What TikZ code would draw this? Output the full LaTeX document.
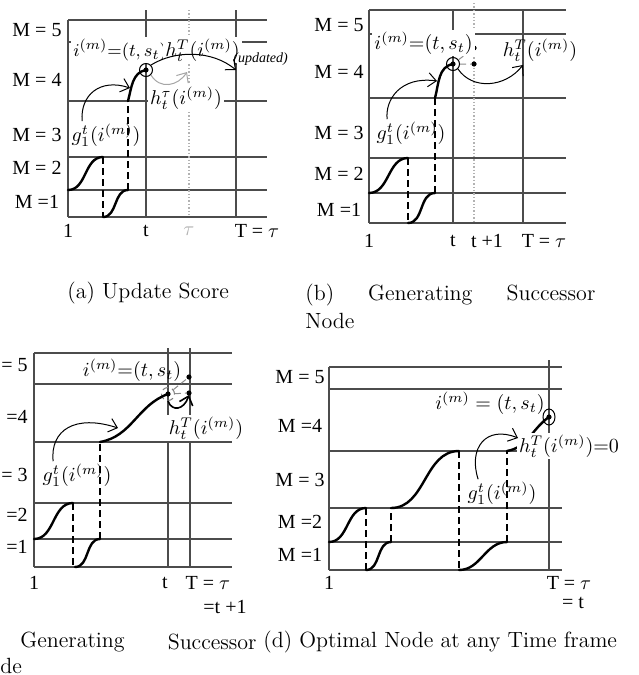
\documentclass[tikz,border=0pt]{standalone}
\usepackage{fontspec}
\newfontfamily\tms{Liberation Serif}
\usetikzlibrary{arrows.meta,shapes.geometric}

\begin{document}
\begin{tikzpicture}[x=0.5pt,y=-0.5pt,>={Straight Barb[length=4pt,width=7pt]},
  gline/.style={black!70,line width=0.7pt},
  tline/.style={black!30,densely dotted,line width=0.7pt},
  wave/.style={line width=1.2pt,line cap=round},
  drop/.style={line width=0.7pt,dash pattern=on 3.5pt off 2pt},
  mlab/.style={font=\tms\fontsize{10}{12}\selectfont,inner sep=1pt},
  fml/.style={font=\fontsize{10}{12}\selectfont,inner sep=1pt},
  capt/.style={font=\fontsize{11}{13.6}\selectfont,inner sep=0pt},
  ring/.style={circle,draw,line width=0.5pt,minimum size=6.5pt,inner sep=0pt},
  dot/.style={circle,fill,inner sep=0pt,minimum size=2.6pt},
  link/.style={->,line width=0.5pt}]
\useasboundingbox (0,0) rectangle (638,675);

% (a) update score
\foreach \y in {20,42,101,157,190,217} \draw[gline] (68,\y) -- (267,\y);
\draw[gline] (68,20) -- (68,217) (146,10) -- (146,217) (236,10) -- (236,217);
\draw[tline] (189,10) -- (189,217);
\foreach \t/\y in {M = 5/30,M = 4/80,M = 3/135,M = 2/168,M =1/202}
  \node[mlab] (a-m\y) at (37,\y) {\t};
\node[mlab] (a-x1) at (68,231) {1};
\node[mlab] (a-xt) at (146,231) {t};
\node[mlab,text=black!30] (a-xtau) at (189,231) {$\tau$};
\node[mlab] (a-xT) at (257,231) {T = $\tau$};
\node[ring] (a-c) at (146,70) {};
\node[dot] (a-cd) at (a-c) {};
\draw[wave] (68,190) to[out=0,in=180] (103,157);
\draw[drop] (103,157) -- (103,217);
\draw[wave] (103,217) to[out=0,in=180] (128,190);
\draw[drop] (128,190) -- (128,101);
\draw[wave] (128,101) to[out=75,in=190] (a-c.center);
\node[fml,fill=white,anchor=west,font=\fontsize{9.5}{11}\selectfont] (a-i) at (71,50) {$i^{(m)}{=}(t,s_t)$};
\node[fml,fill=white,anchor=west] (a-hT) at (163,50) {$h_t^T(i^{(m)})$};
\node[font=\tms\itshape\fontsize{7}{8}\selectfont,anchor=west,inner sep=0.5pt] (a-up) at (232,59) {(updated)};
\node[fml,fill=white] (a-ht) at (186,98) {$h_t^\tau(i^{(m)})$};
\node[fml] (a-g) at (106,135) {$g_1^t(i^{(m)})$};
\coordinate (a-gt) at (130,88);
\coordinate (a-T) at (236,70);
\coordinate (a-tau) at (187,72);
\draw[link] (a-g.150) .. controls (80,95) and (100,78) .. (a-gt);
\draw[link] (a-c.north east) .. controls (175,50) and (212,50) .. (a-T);
\draw[link,black!35] (a-c.south east) .. controls (160,90) and (178,86) .. (a-tau);

% (b) generating successor node
\foreach \y in {10,34,98,158,193,223} \draw[gline] (369,\y) -- (566,\y);
\draw[gline] (369,10) -- (369,223) (453,10) -- (453,223) (523,10) -- (523,223);
\draw[tline] (474,3) -- (474,223);
\foreach \t/\y in {M = 5/25,M = 4/72,M = 3/133,M = 2/174,M =1/210}
  \node[mlab] (b-m\y) at (339,\y) {\t};
\node[mlab] (b-x1) at (369,241) {1};
\node[mlab] (b-xt) at (453,241) {t};
\node[mlab] (b-xt1) at (487,241) {t +1};
\node[mlab] (b-xT) at (544,241) {T = $\tau$};
\node[ring] (b-c) at (453,64) {};
\node[dot] (b-cd) at (b-c) {};
\node[dot] (b-d1) at (474,48) {};
\node[dot] (b-d2) at (474,64) {};
\draw[wave] (369,193) to[out=0,in=180] (408,158);
\draw[drop] (408,158) -- (408,223);
\draw[wave] (408,223) to[out=0,in=180] (435,193);
\draw[drop] (435,193) -- (435,98);
\draw[wave] (435,98) to[out=75,in=190] (b-c.center);
\draw[black!45,densely dashed,line width=0.5pt] (b-c) -- (b-d1) (b-c) -- (b-d2);
\node[fml,fill=white,anchor=west] (b-i) at (372,43) {$i^{(m)}{=}(t,s_t)$};
\node[fml] (b-h) at (540,50) {$h_t^T(i^{(m)})$};
\node[fml] (b-g) at (411,133) {$g_1^t(i^{(m)})$};
\coordinate (b-gt) at (437,81);
\coordinate (b-T) at (523,65);
\draw[link] (b-g.150) .. controls (385,100) and (400,76) .. (b-gt);
\draw[link] (b-c.south east) .. controls (472,90) and (505,88) .. (b-T);

% (c) successor at the end
\foreach \y in {353,384,442,503,539,567} \draw[gline] (34,\y) -- (232,\y);
\draw[gline] (34,353) -- (34,567) (168,348) -- (168,567) (190,348) -- (190,567);
\foreach \t/\y in {= 5/365,=4/417,= 3/475,=2/515,=1/547}
  \node[mlab,anchor=east] (c-m\y) at (30,\y) {\t};
\node[mlab] (c-x1) at (34,583) {1};
\node[mlab] (c-xt) at (165,583) {t};
\node[mlab] (c-xT) at (208,583) {T = $\tau$};
\node[mlab] (c-xt1) at (225,607) {=t +1};
\node[ring,draw=black!50,densely dashed] (c-c) at (168,394) {};
\node[dot] (c-cd) at (c-c) {};
\node[dot] (c-d1) at (189,377) {};
\node[dot] (c-d2) at (189,393) {};
\draw[wave] (34,539) to[out=0,in=180] (73,503);
\draw[drop] (73,503) -- (73,567);
\draw[wave] (75,567) to[out=0,in=180] (100,539);
\draw[drop] (100,539) -- (100,442);
\draw[wave] (100,442) to[out=10,in=200] (c-c.center);
\draw[black!45,densely dashed,line width=0.5pt] (c-c) -- (c-d1) (c-c) -- (c-d2);
\node[fml] (c-i) at (132,370) {$i^{(m)}{=}(t,s_t)$};
\node[fml,fill=white] (c-h) at (206,428) {$h_t^T(i^{(m)})$};
\node[fml] (c-g) at (77,475) {$g_1^t(i^{(m)})$};
\coordinate (c-gt) at (118,428);
\coordinate (c-T) at (189,395);
\draw[link] (c-g.150) .. controls (50,430) and (75,414) .. (c-gt);
\draw[link,line width=0.8pt] (c-c.south) .. controls (172,412) and (184,410) .. (c-T);

% (d) optimal node
\foreach \y in {367,389,451,508,542,570} \draw[gline] (329,\y) -- (562,\y);
\draw[gline] (329,367) -- (329,570) (549,360) -- (549,570);
\foreach \t/\y in {M = 5/377,M =4/426,M = 3/480,M =2/522,M =1/555}
  \node[mlab] (d-m\y) at (300,\y) {\t};
\node[mlab] (d-x1) at (329,583) {1};
\node[mlab] (d-xT) at (569,583) {T = $\tau$};
\node[mlab] (d-xt) at (573,603) {= t};
\node[ellipse,draw,line width=0.5pt,minimum width=6pt,minimum height=8pt,inner sep=0pt] (d-c) at (549,417) {};
\node[dot] (d-cd) at (d-c) {};
\draw[wave] (329,542) to[out=0,in=180] (366,508);
\draw[drop] (366,508) -- (366,570);
\draw[wave] (366,570) to[out=0,in=180] (391,542);
\draw[drop] (391,542) -- (391,508);
\draw[wave] (391,508) to[out=0,in=180] (459,451);
\draw[drop] (459,451) -- (459,570);
\draw[wave] (459,570) to[out=0,in=180] (507,542);
\draw[drop] (507,542) -- (507,451);
\draw[wave] (507,451) to[out=10,in=215] (d-c.center);
\node[fml] (d-i) at (490,403) {$i^{(m)}=(t,s_t)$};
\node[fml,fill=white] (d-h) at (569,446) {$h_t^T(i^{(m)}){=}0$};
\node[fml] (d-g) at (502,493) {$g_1^t(i^{(m)})$};
\coordinate (d-gt) at (518,438);
\draw[link] (d-g.150) .. controls (468,448) and (486,425) .. (d-gt);

% captions
\node[capt,anchor=west] (cap-a) at (67,293) {(a)~Update Score};
\node[capt,anchor=north west,text width=145pt,align=left] (cap-b) at (305,284) {(b)\hfill Generating\hfill Successor\\Node};
\node[capt,anchor=west] (cap-c1) at (20,642) {Generating};
\node[capt,anchor=east] (cap-c2) at (257,642) {Successor};
\node[capt,anchor=west] (cap-c3) at (0,666) {de};
\node[capt,anchor=west] (cap-d) at (263,642) {(d)~Optimal Node at any Time frame};
\end{tikzpicture}
\end{document}
